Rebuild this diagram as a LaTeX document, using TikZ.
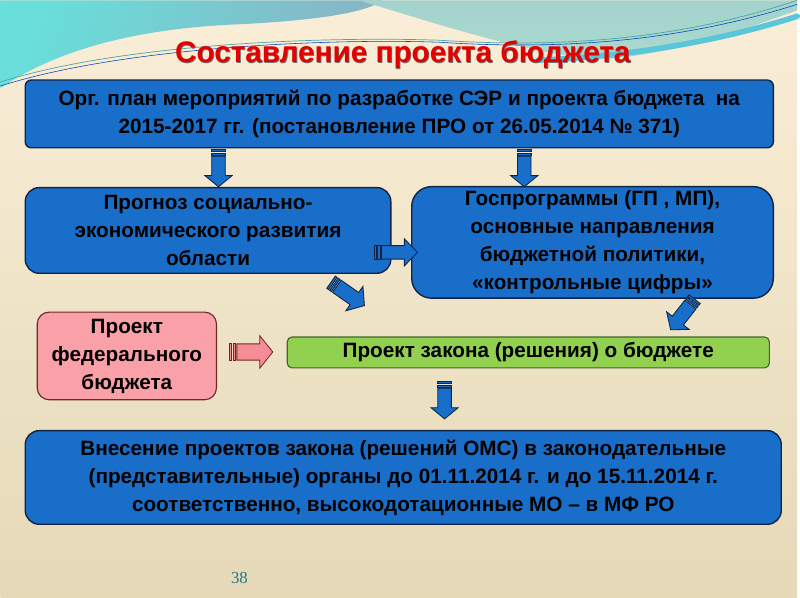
\documentclass[tikz,border=0pt]{standalone}
\usepackage{fontspec}
\setmainfont{Liberation Sans}
\newfontfamily\pagefont{Liberation Serif}
\definecolor{boxblue}{RGB}{24,110,200}
\definecolor{boxedge}{RGB}{16,36,70}
\definecolor{creamtop}{RGB}{250,238,216}
\definecolor{creamlow}{RGB}{229,217,184}
\definecolor{pinkfill}{RGB}{250,160,168}
\definecolor{pinkarrow}{RGB}{246,140,150}
\definecolor{pinkedge}{RGB}{110,40,40}
\definecolor{greenfill}{RGB}{146,208,80}
\definecolor{greenedge}{RGB}{70,100,40}
\definecolor{titlered}{RGB}{226,0,0}
\definecolor{tealbright}{RGB}{105,222,218}
\definecolor{tealgrey}{RGB}{135,182,198}
\definecolor{tealright}{RGB}{170,218,206}
\definecolor{tealband}{RGB}{90,198,218}
\definecolor{numteal}{RGB}{40,118,140}

\tikzset{
  boxtext/.style={font=\fontsize{14.8}{20}\selectfont\bfseries, text=black, align=center, inner sep=0pt},
  bluebox/.style={boxtext, draw=boxedge, fill=boxblue, line width=1pt, rounded corners=0.35cm},
  titletext/.style={font=\fontsize{21.2}{25}\selectfont\bfseries},
  pics/striparrow/.style={code={
    \filldraw[fill=#1, line width=0.6pt] (0.16,-0.17) -- (0.65,-0.17) -- (0.65,-0.34) -- (0.93,0)
      -- (0.65,0.34) -- (0.65,0.17) -- (0.16,0.17) -- cycle;
    \filldraw[fill=#1, line width=0.6pt] (0,-0.17) rectangle (0.05,0.17);
    \filldraw[fill=#1, line width=0.6pt] (0.08,-0.17) rectangle (0.13,0.17);
  }}
}

\begin{document}
\begin{tikzpicture}
  % background
  \shade[top color=creamtop, bottom color=creamlow] (0,0) rectangle (20,15);
  \shade[left color=tealbright, right color=tealgrey, shading angle=70]
    (0,15) -- (0,12.8) .. controls (1.5,13.8) and (3.5,14.3) .. (6,14.4)
    .. controls (8,14.5) and (9.2,14.7) .. (9.6,15) -- cycle;
  \shade[top color=tealright!80!tealgrey, bottom color=tealright]
    (9,15) .. controls (11,14.4) and (14,13.4) .. (15.5,13.55)
    .. controls (17.5,13.8) and (19,14.4) .. (20,14.75) -- (20,15) -- cycle;
  \draw[tealband, line width=4pt, line cap=round] (13.5,13.5) .. controls (15,13.55) and (17.5,13.8) .. (20,14.6);
  \draw[teal!70, line width=0.5pt] (0,12.95) .. controls (3,13.9) and (8,14.1) .. (11,14.0)
    .. controls (14,13.8) and (17,14.0) .. (20,15);
  \draw[blue!50!teal, line width=0.4pt] (0,12.85) .. controls (3,13.8) and (8,14.05) .. (11,13.95)
    .. controls (14,13.75) and (17,13.95) .. (20,14.9);
  \useasboundingbox (0,0) rectangle (20,15);

  % title
  \node[titletext, text=black!55] at (10.12,13.605) {Составление проекта бюджета};
  \node[titletext, text=titlered] (title) at (10.1,13.625) {Составление проекта бюджета};

  % boxes
  \node[bluebox, rounded corners=0.15cm, minimum width=18.775cm, minimum height=1.7cm] (plan) at (10.0125,12.15)
    {Орг. план мероприятий по разработке СЭР и проекта бюджета\ \ на\\2015-2017 гг. (постановление ПРО от 26.05.2014 № 371)};
  \node[bluebox, minimum width=9.175cm, minimum height=2.15cm] (prog) at (5.2125,9.225)
    {Прогноз социально-\\экономического развития\\области};
  \node[bluebox, rounded corners=0.5cm, minimum width=9.075cm, minimum height=2.8cm] (gosp) at (14.8625,8.925)
    {Госпрограммы (ГП , МП),\\основные направления\\бюджетной политики,\\«контрольные цифры»};
  \node[boxtext, draw=pinkedge, fill=pinkfill, line width=0.8pt, rounded corners=0.3cm,
    minimum width=4.5cm, minimum height=2.2cm] (fed) at (3.175,6.075)
    {Проект\\федерального\\бюджета};
  \node[boxtext, draw=greenedge, fill=greenfill, line width=0.8pt, rounded corners=0.12cm,
    minimum width=12.1cm, minimum height=0.775cm] (law) at (13.25,6.1625)
    {Проект закона (решения) о бюджете};
  \node[bluebox, minimum width=18.975cm, minimum height=2.35cm] (vnes) at (10.1125,3.025)
    {Внесение проектов закона (решений ОМС) в законодательные\\(представительные) органы до 01.11.2014 г. и до 15.11.2014 г.\\соответственно, высокодотационные МО – в МФ РО};

  % block arrows
  \pic[rotate=-90, color=boxedge] at (5.475,11.25) {striparrow=boxblue};
  \pic[rotate=-90, color=boxedge] at (13.15,11.25) {striparrow=boxblue};
  \pic[xscale=1.17, color=boxedge] at (9.38,8.675) {striparrow=boxblue};
  \pic[rotate=-35, scale=1.1, color=boxedge] at (8.3,7.925) {striparrow=boxblue};
  \pic[rotate=-128, scale=1.05, color=boxedge] at (17.425,7.5) {striparrow=boxblue};
  \pic[xscale=1.17, yscale=1.2, color=pinkedge] at (5.75,6.175) {striparrow=pinkarrow};
  \pic[rotate=-90, color=boxedge] at (11.15,5.425) {striparrow=boxblue};

  % page number
  \node[font=\pagefont\fontsize{12}{14}\selectfont, text=numteal] (page) at (6.0,0.5) {38};
\end{tikzpicture}
\end{document}
